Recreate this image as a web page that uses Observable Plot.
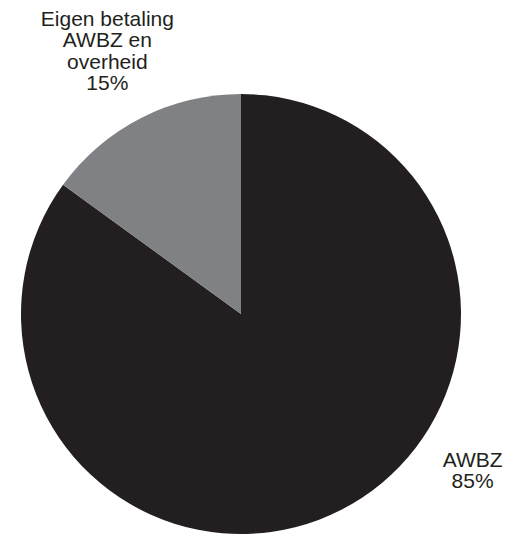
<!DOCTYPE html>
<html>
<head>
<meta charset="utf-8">
<script src="https://cdn.jsdelivr.net/npm/d3@7"></script>
<script src="https://cdn.jsdelivr.net/npm/@observablehq/plot@0.6"></script>
<style>
  html, body { margin: 0; padding: 0; background: #fff; }
  #chart { width: 506px; height: 535px; overflow: hidden; }
</style>
</head>
<body>
<div id="chart"></div>
<script>
// Data
const categories = ["AWBZ", "Eigen betaling\nAWBZ en\noverheid"];
const shares = [85, 15];
const colors = ["#231f20", "#808184"];
// Label placement (angle in degrees clockwise from north, radius in pie radii)
const labelAngle = [124, 333];
const labelRadius = [1.267, 1.343];

const data = categories.map((c, i) => ({category: c, value: shares[i], color: colors[i]}));
const arcs = d3.pie().value(d => d.value).sort(null).startAngle(0).endAngle(2 * Math.PI)(data);

const labels = data.map((d, i) => {
  const a = labelAngle[i] * Math.PI / 180;
  return {
    x: labelRadius[i] * Math.sin(a),
    y: labelRadius[i] * Math.cos(a),
    text: `${d.category}\n${d.value}%`
  };
});

function pieMark(index, scales, values, dimensions) {
  const cx = scales.x(0), cy = scales.y(0);
  const r = scales.x(1) - scales.x(0);
  const arc = d3.arc().innerRadius(0).outerRadius(r);
  const g = d3.create("svg:g").attr("transform", `translate(${cx},${cy})`);
  g.selectAll("path").data(arcs).join("path")
    .attr("d", arc)
    .attr("fill", d => d.data.color)
    .attr("stroke", "none");
  return g.node();
}

const chart = Plot.plot({
  width: 506,
  height: 535,
  margin: 0,
  x: {domain: [-241 / 220, 265 / 220], axis: null},
  y: {domain: [-221 / 220, 314 / 220], axis: null},
  style: {fontFamily: "'Liberation Sans', Arial, sans-serif", background: "#fff"},
  marks: [
    pieMark,
    Plot.text(labels, {
      x: "x", y: "y", text: "text",
      fontSize: 21, lineHeight: 1.02, fill: "#231f20",
      textAnchor: "middle", lineAnchor: "middle"
    })
  ]
});
document.getElementById("chart").appendChild(chart);
</script>
</body>
</html>
